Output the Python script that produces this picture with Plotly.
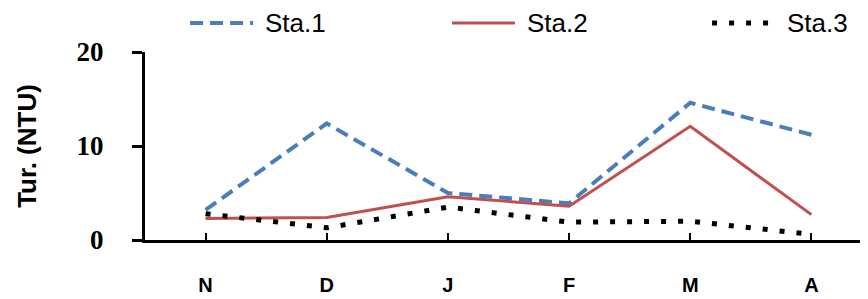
import plotly.graph_objects as go

months = ["N", "D", "J", "F", "M", "A"]
sta1 = [3.2, 12.4, 5.0, 3.9, 14.6, 11.2]
sta2 = [2.3, 2.4, 4.6, 3.6, 12.1, 2.7]
sta3 = [2.8, 1.3, 3.5, 1.9, 2.0, 0.6]
series_names = ["Sta.1", "Sta.2", "Sta.3"]
y_ticks = [0, 10, 20]

styles = [
    dict(color="#4A7EBB", width=4, dash="13px,7px"),
    dict(color="#C0504D", width=3, dash="solid"),
    dict(color="black", width=5, dash="5px,12px"),
]

fig = go.Figure()
for name, vals, st in zip(series_names, [sta1, sta2, sta3], styles):
    fig.add_trace(go.Scatter(x=months, y=vals, mode="lines", name=name,
                             line=st, showlegend=False))

# manual legend (long line samples like the reference)
legend_x = [0.062, 0.4223, 0.780]
legend_len = 0.0867
legend_y = 1.154
for name, st, lx in zip(series_names, styles, legend_x):
    fig.add_shape(type="line", xref="paper", yref="paper",
                  x0=lx, x1=lx + legend_len, y0=legend_y, y1=legend_y,
                  line=dict(color=st["color"], width=st["width"], dash=st["dash"]))
    fig.add_annotation(xref="paper", yref="paper", x=lx + legend_len + 0.0137, y=legend_y,
                       text=name, showarrow=False, xanchor="left", yanchor="middle",
                       font=dict(family="Liberation Sans, Arial", size=26, color="black"))

fig.update_layout(
    width=868, height=299,
    margin=dict(l=137, r=4, t=44, b=67, autoexpand=False),
    paper_bgcolor="white", plot_bgcolor="white",
    showlegend=False,
    xaxis=dict(type="category", range=[-0.5, 5.5], showgrid=False, zeroline=False,
               showline=True, linecolor="black", linewidth=3,
               ticks="inside", ticklen=7, tickwidth=2, tickcolor="black",
               tickfont=dict(family="Liberation Sans, Arial", size=20, color="black", weight="bold"),
               ticklabelstandoff=25),
    yaxis=dict(range=[0, 20], tickvals=y_ticks, showgrid=False, zeroline=False,
               showline=True, linecolor="black", linewidth=3,
               ticks="outside", ticklen=10, tickwidth=3, tickcolor="black",
               tickfont=dict(family="Liberation Serif, Times New Roman", size=27, color="black", weight="bold"),
               ticklabelstandoff=23,
               title=dict(text="Tur. (NTU)", standoff=33,
                          font=dict(family="Liberation Sans, Arial", size=26, color="black", weight="bold"))),
)

fig.write_html("out.html")
